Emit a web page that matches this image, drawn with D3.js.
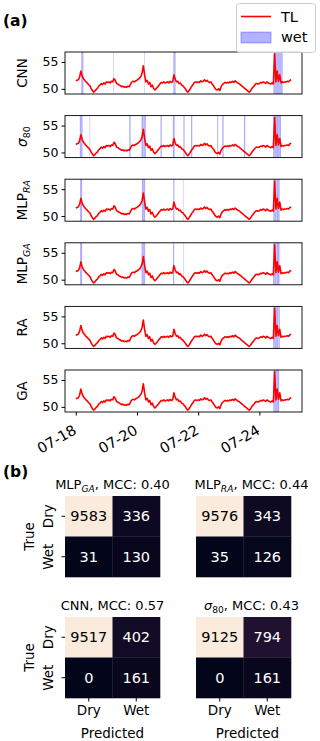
<!DOCTYPE html>
<html>
<head>
<meta charset="utf-8">
<script src="https://cdn.jsdelivr.net/npm/d3@7"></script>
<style>
  body { margin: 0; background: #fff; }
  svg { display: block; font-family: "DejaVu Sans", sans-serif; }
</style>
</head>
<body>
<div id="chart"></div>
<script>
// TL signal, one value per hour from 07-18 00:00 (UTC)
const tlStart = "2023-07-18T00:00:00Z";
const tlValues = [
  51.5, 51.6, 51.7, 52.2, 53.3, 52.4, 51.9, 51.6, 51.3, 51.1, 50.8, 50.6, 50.1, 49.7, 49.4, 49.6, 49.9, 50.1, 50.5, 50.7, 51.0, 50.8, 51.1, 50.9,
  51.3, 51.2, 51.3, 51.1, 51.4, 51.3, 51.9, 51.6, 51.0, 50.9, 50.7, 50.6, 50.4, 50.5, 50.3, 50.4, 50.3, 50.5, 50.4, 50.9, 51.3, 51.4, 51.3, 51.5,
  51.6, 51.8, 52.0, 52.3, 52.9, 54.3, 52.6, 51.3, 51.6, 50.9, 51.2, 50.4, 50.7, 50.1, 49.8, 50.0, 50.3, 50.6, 50.9, 51.2, 51.1, 51.3, 51.1, 51.2,
  51.3, 51.1, 51.4, 51.2, 51.3, 52.6, 51.8, 51.3, 51.4, 51.0, 51.1, 50.7, 50.6, 50.3, 50.0, 49.6, 49.4, 49.7, 50.1, 50.5, 50.8, 51.2, 51.3, 51.2,
  51.3, 51.2, 51.5, 51.3, 51.4, 51.7, 51.4, 51.6, 51.3, 51.2, 51.3, 50.9, 50.6, 50.2, 49.9, 49.8, 50.0, 49.7, 50.4, 50.8, 51.0, 51.2, 51.1, 51.2,
  51.1, 51.3, 51.2, 51.4, 51.2, 51.5, 51.3, 51.1, 51.0, 50.8, 50.6, 50.4, 50.2, 50.0, 49.8, 49.6, 49.4, 49.6, 50.0, 50.3, 50.6, 50.9, 51.0, 50.9,
  51.0, 51.2, 51.1, 51.3, 51.2, 51.0, 51.3, 51.1, 51.0, 50.9, 51.1, 50.9, 56.5, 51.3, 53.3, 51.4, 52.6, 51.1, 51.3, 51.2, 51.3, 51.3, 51.4, 51.3,
  51.6, 51.7
];
const tickDays = ["2023-07-18", "2023-07-20", "2023-07-22", "2023-07-24"];
const yTicks = [50, 55];

// wet periods per model, [start, end] in days after 07-18 00:00
const cnnWet = [[0.19, 0.24], [1.23, 1.232], [2.24, 2.242], [3.2, 3.25], [6.47, 6.75]];
const sigmaWet = [[0.14, 0.21], [0.46, 0.461], [1.76, 1.78], [2.16, 2.19], [2.22, 2.28], [2.78, 2.8], [3.18, 3.22],
  [3.53, 3.545], [3.78, 3.8], [4.64, 4.645], [4.8, 4.82], [5.51, 5.53], [6.46, 6.56], [6.58, 6.7]];
const mlpRaWet = [[0.15, 0.2], [2.17, 2.26], [3.2, 3.215], [3.51, 3.511], [6.47, 6.55], [6.58, 6.65]];
const mlpGaWet = [[0.15, 0.2], [2.16, 2.26], [3.19, 3.21], [3.53, 3.531], [6.46, 6.55], [6.58, 6.64], [6.67, 6.671]];
const raWet = [[6.46, 6.61], [6.64, 6.66]];
const gaWet = [[6.47, 6.64]];

const panelLabels = ["CNN", "σ_80", "MLP_RA", "MLP_GA", "RA", "GA"];
const panelWet = [cnnWet, sigmaWet, mlpRaWet, mlpGaWet, raWet, gaWet];

// confusion matrices: [dry->dry, dry->wet, wet->dry, wet->wet]
const classes = ["Dry", "Wet"];
const cmNames = ["MLP_GA", "MLP_RA", "CNN", "σ_80"];
const cmMcc = ["0.40", "0.44", "0.57", "0.43"];
const cmValues = [
  [9583, 336, 31, 130],
  [9576, 343, 35, 126],
  [9517, 402, 0, 161],
  [9125, 794, 0, 161]
];
const rocketColors = ["#03051a", "#35193e", "#701f57", "#ad1759", "#e13342", "#f37651", "#f6b48f", "#faebdd"];

const W = 320, H = 741;
const svg = d3.select("#chart").append("svg").attr("width", W).attr("height", H);

const parseDay = d3.utcParse("%Y-%m-%d");
const t0 = new Date(tlStart);
const tl = tlValues.map((v, i) => ({t: d3.utcHour.offset(t0, i), v: v}));
const dayToDate = d => new Date(t0.getTime() + d * 864e5);

// label like "MLP_RA" -> MLP with italic subscript, greek main letters italic
function richLabel(text, label, size, rest) {
  const [main, sub] = label.split("_");
  text.append("tspan").text(main)
    .attr("font-style", /[α-ω]/.test(main) ? "italic" : null);
  const shift = size * 0.22;
  if (sub) {
    text.append("tspan").text(sub)
      .attr("dy", shift)
      .attr("font-size", size * 0.7)
      .attr("font-style", /\d/.test(sub) ? null : "italic");
  }
  if (rest) {
    text.append("tspan").text(rest).attr("dy", sub ? -shift : null);
  }
}

// ---- (a) time series panels ----
const plotL = 65, plotR = 302, panelTop = 52, panelStep = 63.6, panelH = 42;
const tExtent = d3.extent(tl, d => d.t);
const tPad = (tExtent[1] - tExtent[0]) * 0.05;
const x = d3.scaleUtc()
  .domain([new Date(tExtent[0] - tPad), new Date(+tExtent[1] + tPad)])
  .range([plotL, plotR]);
const vExtent = d3.extent(tl, d => d.v);
const vPad = (vExtent[1] - vExtent[0]) * 0.05;

svg.append("text")
  .attr("x", 3).attr("y", 26)
  .attr("font-size", 15.5).attr("font-weight", "bold")
  .text("(a)");

panelLabels.forEach((label, i) => {
  const top = panelTop + i * panelStep;
  const y = d3.scaleLinear()
    .domain([vExtent[0] - vPad, vExtent[1] + vPad])
    .range([top + panelH, top]);
  const g = svg.append("g");

  g.append("clipPath").attr("id", "clip" + i)
    .append("rect").attr("x", plotL).attr("y", top).attr("width", plotR - plotL).attr("height", panelH);

  const body = g.append("g").attr("clip-path", `url(#clip${i})`);
  body.selectAll("rect.wet")
    .data(panelWet[i])
    .enter()
    .append("rect")
      .attr("class", "wet")
      .attr("x", d => x(dayToDate(d[0])))
      .attr("y", top)
      .attr("width", d => x(dayToDate(d[1])) - x(dayToDate(d[0])))
      .attr("height", panelH)
      .attr("fill", "blue").attr("fill-opacity", 0.28)
      .attr("stroke", "blue").attr("stroke-opacity", 0.28).attr("stroke-width", 0.5);

  body.append("path")
    .datum(tl)
    .attr("fill", "none")
    .attr("stroke", "red")
    .attr("stroke-width", 1.6)
    .attr("stroke-linejoin", "round")
    .attr("d", d3.line().x(d => x(d.t)).y(d => y(d.v)));

  g.append("rect")
    .attr("x", plotL).attr("y", top).attr("width", plotR - plotL).attr("height", panelH)
    .attr("fill", "none").attr("stroke", "black").attr("stroke-width", 0.9);

  const yAxis = g.append("g")
    .attr("transform", `translate(${plotL},0)`)
    .call(d3.axisLeft(y).tickValues(yTicks).tickSize(3.5).tickPadding(3));
  yAxis.select(".domain").remove();
  yAxis.selectAll("text").attr("font-size", 12.5).attr("font-family", "DejaVu Sans").attr("fill", "#000");

  const yl = g.append("text")
    .attr("transform", `translate(27,${top + panelH / 2}) rotate(-90)`)
    .attr("text-anchor", "middle")
    .attr("font-size", 13.5);
  richLabel(yl, label, 13.5);

  if (i === panelLabels.length - 1) {
    const xAxis = g.append("g")
      .attr("transform", `translate(0,${top + panelH})`)
      .call(d3.axisBottom(x)
        .tickValues(tickDays.map(parseDay))
        .tickFormat(d3.utcFormat("%m-%d"))
        .tickSize(3.5));
    xAxis.select(".domain").remove();
    xAxis.selectAll("text")
      .attr("font-size", 14.5).attr("font-family", "DejaVu Sans").attr("fill", "#000")
      .attr("text-anchor", "end")
      .attr("y", 0).attr("dy", "0.72em")
      .attr("transform", "translate(-4,12) rotate(-30)");
  }
});

// legend
const legend = svg.append("g");
legend.append("rect")
  .attr("x", 236.5).attr("y", 3.5).attr("width", 79).attr("height", 49).attr("rx", 3)
  .attr("fill", "white").attr("fill-opacity", 0.8).attr("stroke", "#cccccc");
legend.append("line")
  .attr("x1", 241).attr("x2", 271).attr("y1", 16.5).attr("y2", 16.5)
  .attr("stroke", "red").attr("stroke-width", 1.6);
legend.append("rect")
  .attr("x", 241).attr("y", 32).attr("width", 30).attr("height", 11)
  .attr("fill", "blue").attr("fill-opacity", 0.3)
  .attr("stroke", "blue").attr("stroke-opacity", 0.3).attr("stroke-width", 1);
legend.append("text").attr("x", 281).attr("y", 22).attr("font-size", 14.5).text("TL");
legend.append("text").attr("x", 281).attr("y", 42).attr("font-size", 14.5).text("wet");

// ---- (b) confusion matrices ----
svg.append("text")
  .attr("x", 3).attr("y", 477)
  .attr("font-size", 15.5).attr("font-weight", "bold")
  .text("(b)");

const cmLeft = [65, 196], cmTop = [496, 617];
const titleNudge = [0, 8];
const cellW = 47.5, cellH = 40.5;
const rocket = d3.scaleLinear()
  .domain(rocketColors.map((c, i) => i / (rocketColors.length - 1)))
  .range(rocketColors);
const lum = c => {
  const rgb = d3.rgb(c);
  const f = v => { v /= 255; return v <= 0.03928 ? v / 12.92 : Math.pow((v + 0.055) / 1.055, 2.4); };
  return 0.2126 * f(rgb.r) + 0.7152 * f(rgb.g) + 0.0722 * f(rgb.b);
};

cmNames.forEach((name, k) => {
  const col = k % 2, row = Math.floor(k / 2);
  const left = cmLeft[col], top = cmTop[row];
  const vals = cmValues[k];
  const color = d3.scaleLinear().domain(d3.extent(vals)).range([0, 1]);
  const xb = d3.scaleBand().domain(classes).range([left, left + 2 * cellW]);
  const yb = d3.scaleBand().domain(classes).range([top, top + 2 * cellH]);
  const cells = vals.map((v, j) => ({p: classes[j % 2], t: classes[Math.floor(j / 2)], v: v}));
  const g = svg.append("g");

  g.selectAll("rect")
    .data(cells)
    .enter()
    .append("rect")
      .attr("x", d => xb(d.p))
      .attr("y", d => yb(d.t))
      .attr("width", xb.bandwidth() + 0.3)
      .attr("height", yb.bandwidth() + 0.3)
      .attr("fill", d => rocket(color(d.v)));

  g.selectAll("text.val")
    .data(cells)
    .enter()
    .append("text")
      .attr("class", "val")
      .attr("x", d => xb(d.p) + xb.bandwidth() / 2)
      .attr("y", d => yb(d.t) + yb.bandwidth() / 2)
      .attr("dy", "0.36em")
      .attr("text-anchor", "middle")
      .attr("font-size", 14.5)
      .attr("fill", d => lum(rocket(color(d.v))) > 0.408 ? "black" : "white")
      .text(d => d.v);

  const title = g.append("text")
    .attr("x", left + cellW + titleNudge[col])
    .attr("y", top - 7)
    .attr("text-anchor", "middle")
    .attr("font-size", 13);
  richLabel(title, name, 13, `, MCC: ${cmMcc[k]}`);

  if (col === 0) {
    const yAxis = g.append("g")
      .attr("transform", `translate(${left},0)`)
      .call(d3.axisLeft(yb).tickSize(3.5).tickPadding(3));
    yAxis.select(".domain").remove();
    yAxis.selectAll("text")
      .attr("font-size", 13.5).attr("font-family", "DejaVu Sans").attr("fill", "#000")
      .attr("text-anchor", "middle")
      .attr("x", 0).attr("dy", 0)
      .attr("transform", "translate(-12,0) rotate(-90)");
    g.append("text")
      .attr("transform", `translate(34,${top + cellH}) rotate(-90)`)
      .attr("text-anchor", "middle")
      .attr("font-size", 13.5)
      .text("True");
  }
  if (row === 1) {
    const xAxis = g.append("g")
      .attr("transform", `translate(0,${top + 2 * cellH})`)
      .call(d3.axisBottom(xb).tickSize(3.5).tickPadding(4));
    xAxis.select(".domain").remove();
    xAxis.selectAll("text").attr("font-size", 13.5).attr("font-family", "DejaVu Sans").attr("fill", "#000");
    g.append("text")
      .attr("x", left + cellW + titleNudge[col] / 2)
      .attr("y", 738)
      .attr("text-anchor", "middle")
      .attr("font-size", 13.5)
      .text("Predicted");
  }
});
</script>
</body>
</html>
